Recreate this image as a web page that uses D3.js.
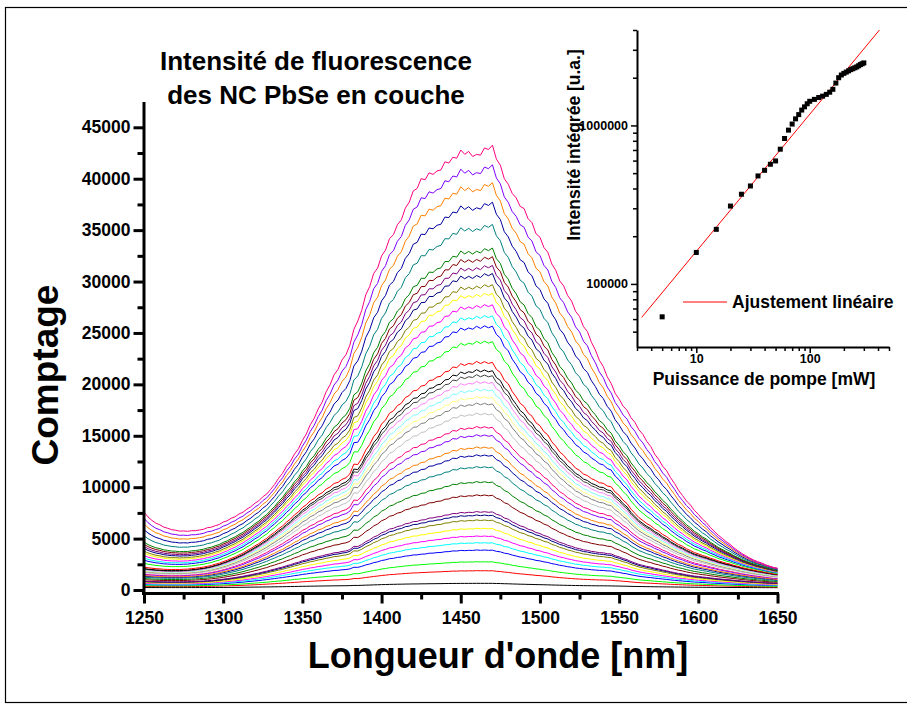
<!DOCTYPE html>
<html><head><meta charset="utf-8">
<script src="https://cdn.jsdelivr.net/npm/d3@7/dist/d3.min.js"></script>
<style>
body{margin:0;background:#fff}
text{font-family:"Liberation Sans",Arial,Helvetica,sans-serif;font-weight:bold;fill:#000}
</style></head>
<body><svg id="chart" width="907" height="704"></svg>
<script>
// ---------- data ----------
const wavelengths = d3.range(1250, 1651, 5); // nm, profile grid
// top spectrum (highest pump power), counts
const profileHigh = [7300,6500,6100,5750,5550,5500,5520,5600,5800,6000,6350,6700,7150,7600,8150,8800,9500,10600,11700,12900,14200,15700,17300,18900,20500,22000,23400,25800,28200,30300,32000,33600,35100,36600,38200,39500,40000,40300,41000,41500,42200,42000,41900,42400,42600,40800,38900,37700,36500,35200,33800,32300,30700,29100,27600,26200,24700,23000,21300,19700,18200,17100,16000,14800,13600,12400,11300,10100,8900,8000,7100,6300,5500,4800,4200,3600,3100,2700,2400,2100,1900];
// mid spectrum (25th curve), counts
const profileMid = [1900,1800,1750,1700,1700,1720,1780,1880,2000,2200,2450,2750,3100,3500,3950,4450,5000,5600,6200,6900,7600,8200,8800,9300,9800,10200,10700,11600,12900,14200,15400,16400,17200,17900,18500,19000,19500,19900,20300,20800,21100,21100,21400,21300,21200,20300,19200,18000,17000,16100,15200,14300,13300,12400,11600,11000,10500,10100,9800,9500,8700,7900,7000,6300,5800,5300,4800,4300,3900,3500,3200,2950,2700,2450,2250,2050,1850,1700,1550,1420,1300];
// counts at 1460 nm for each of the 41 spectra (bottom to top)
const peakCounts = [650,1880,2750,3890,4600,5250,6000,6810,7290,7620,9240,10530,11990,13130,13900,15080,15880,16500,17180,18160,18800,19520,20260,20910,21400,22200,24150,25610,26580,27620,28690,29500,30540,31290,32100,32900,35080,37120,38900,40530,42300];
const curveColors = ["#000000","#FF0000","#00FF00","#0000FF","#00FFFF","#FF00FF","#FFFF00","#808000","#000080","#800080","#800000","#008000","#008080","#0000A0","#FF8000","#8000FF","#FF0080","#FFFFFF","#C0C0C0","#808080","#FFFF80","#80FFFF","#FF80FF","#404040",
"#000000","#FF0000","#00FF00","#0000FF","#00FFFF","#FF00FF","#FFFF00","#808000","#000080","#800080","#800000","#008000","#008080","#0000A0","#FF8000","#8000FF","#FF0080"];
// small point-to-point detector ripple (relative)
const ripple = [3,-2,4,-3,1,-4,3,-1,4,-3,2,-4,3,-2,1,-3,4,-2,3,-4];
// narrow artefact line near 1383 nm (relative height)
const spikeWavelength = [1382.5];
const spikeHeight = [0.05];
const xTicks = [1250,1300,1350,1400,1450,1500,1550,1600,1650];
const yTicks = [0,5000,10000,15000,20000,25000,30000,35000,40000,45000];
// inset
const pumpPower = [5,10,15,20,25,30,35,40,45,50,55,60,65,70,75,80,85,90,95,100,110,120,130,140,150,160,170,180,190,200,210,220,230,240,250,260,270,280,290,300];
const integratedIntensity = [62000,158000,221000,310000,368000,415000,480000,521000,569000,597000,708000,827000,934000,1020000,1100000,1170000,1250000,1310000,1370000,1420000,1460000,1500000,1530000,1570000,1620000,1690000,1850000,2000000,2080000,2130000,2170000,2210000,2250000,2280000,2310000,2340000,2380000,2420000,2450000,2480000];
const fitPower = [3.3, 412];
const fitIntensity = [61500, 4000000];
const insetXTickLabels = [10, 100];
const insetYTickLabels = [100000, 1000000];

// ---------- drawing ----------
const svg = d3.select("#chart");
svg.append("rect").attr("x",5.5).attr("y",7.5).attr("width",910).attr("height",695)
  .attr("fill","none").attr("stroke","#000").attr("stroke-width",1.2);

const x = d3.scaleLinear().domain([1250,1650]).range([144,777.5]);
const y = d3.scaleLinear().domain([-300,47500]).range([593.1,101.6]);

// build spectra
const base = 200;
const iHigh = wavelengths.indexOf(1460);
const topPeak = peakCounts[peakCounts.length-1], midPeak = peakCounts[24];
function spectrum(P){
  const t = Math.max(0, Math.min(1, (P - midPeak)/(topPeak - midPeak)));
  const shape = wavelengths.map((w,i)=> (1-t)*profileMid[i]/profileMid[iHigh] + t*profileHigh[i]/profileHigh[iHigh]);
  const pts = [];
  for(let k=0;k<(wavelengths.length-1)*2+1;k++){
    const i0 = Math.floor(k/2), i1 = Math.ceil(k/2);
    const w = 1250 + 2.5*k;
    let s = (shape[i0]+shape[i1])/2;
    const si = spikeWavelength.indexOf(w);
    if(si>=0) s *= 1 + spikeHeight[si]*(1-0.6*t);
    const v = base + (P-base)*s;
    const r = ripple[k % ripple.length]*0.0015;
    pts.push([w, v + (v-base)*r]);
  }
  return pts;
}
const line = d3.line().x(d=>x(d[0])).y(d=>y(d[1]));
const gCurves = svg.append("g");
peakCounts.forEach((P,i)=>{
  gCurves.append("path").attr("d", line(spectrum(P))).attr("fill","none")
    .attr("stroke", curveColors[i]).attr("stroke-width",1);
});

// axes main
const yAxis = d3.axisLeft(y).tickValues(yTicks).tickSize(10).tickSizeOuter(0).tickPadding(3).tickFormat(d3.format("d"));
const gy = svg.append("g").attr("transform","translate(143.5,0)").call(yAxis);
const yMinor = d3.axisLeft(y).tickValues(d3.range(2500,47500,5000)).tickSize(6).tickSizeOuter(0).tickFormat("");
svg.append("g").attr("transform","translate(143.5,0)").call(yMinor).select(".domain").remove();
const xAxis = d3.axisBottom(x).tickValues(xTicks).tickSize(10).tickSizeOuter(0).tickPadding(8).tickFormat(d3.format("d"));
const gx = svg.append("g").attr("transform","translate(0,593.5)").call(xAxis);
const xMinor = d3.axisBottom(x).tickValues(d3.range(1275,1650,50)).tickSize(6).tickSizeOuter(0).tickFormat("");
svg.append("g").attr("transform","translate(0,593.5)").call(xMinor).select(".domain").remove();
gx.select(".domain").attr("d","M142,0H779");
svg.selectAll(".domain").attr("stroke-width",3);
svg.selectAll(".tick line").attr("stroke-width",3);
gy.selectAll("text").style("font-size","17.5px");
gx.selectAll("text").style("font-size","17.5px");
svg.selectAll(".tick text").style("font-family",null);

// titles
svg.append("text").attr("x",316).attr("y",70).attr("text-anchor","middle").style("font-size","26px").text("Intensité de fluorescence");
svg.append("text").attr("x",316).attr("y",104).attr("text-anchor","middle").style("font-size","26px").text("des NC PbSe en couche");
svg.append("text").attr("transform","translate(58,375) rotate(-90)").attr("text-anchor","middle").style("font-size","37px").text("Comptage");
svg.append("text").attr("x",498).attr("y",668).attr("text-anchor","middle").style("font-size","36px").text("Longueur d'onde [nm]");

// ---------- inset ----------
const ix = d3.scaleLog().domain([3,500]).range([637,889]);
const iy = d3.scaleLog().domain([40000,4000000]).range([347,30]);
const minorX = [3,4,5,6,7,8,9,20,30,40,50,60,70,80,90,200,300,400,500];
const minorY = [50000,60000,70000,80000,90000,200000,300000,400000,500000,600000,700000,800000,900000,2000000,3000000,4000000];
const gi = svg.append("g");
gi.append("g").attr("transform","translate(0,347)").call(d3.axisBottom(ix).tickValues(insetXTickLabels).tickSize(6).tickSizeOuter(0).tickPadding(1).tickFormat(d3.format("d")));
gi.append("g").attr("transform","translate(0,347)").call(d3.axisBottom(ix).tickValues(minorX).tickSize(4).tickSizeOuter(0).tickFormat("")).select(".domain").remove();
gi.append("g").attr("transform","translate(637,0)").call(d3.axisLeft(iy).tickValues(insetYTickLabels).tickSize(6).tickSizeOuter(0).tickPadding(3).tickFormat(d3.format("d")));
gi.append("g").attr("transform","translate(637,0)").call(d3.axisLeft(iy).tickValues(minorY).tickSize(4).tickSizeOuter(0).tickFormat("")).select(".domain").remove();
gi.selectAll(".domain").attr("stroke-width",2);
gi.selectAll(".tick line").attr("stroke-width",1.5);
gi.selectAll(".tick text").style("font-size","12.5px").style("font-family",null);

gi.append("line").attr("x1",ix(fitPower[0])).attr("y1",iy(fitIntensity[0])).attr("x2",ix(fitPower[1])).attr("y2",iy(fitIntensity[1]))
  .attr("stroke","#FF0000").attr("stroke-width",1);
gi.selectAll("rect.pt").data(pumpPower).enter().append("rect").attr("class","pt")
  .attr("x",(d)=>ix(d)-2.5).attr("y",(d,i)=>iy(integratedIntensity[i])-2.5).attr("width",5).attr("height",5).attr("fill","#000");
gi.append("line").attr("x1",683).attr("x2",727).attr("y1",302).attr("y2",302).attr("stroke","#FF0000").attr("stroke-width",1);
gi.append("text").attr("x",732).attr("y",308).style("font-size","17.5px").text("Ajustement linéaire");
gi.append("text").attr("x",764).attr("y",385).attr("text-anchor","middle").style("font-size","17.5px").text("Puissance de pompe [mW]");
gi.append("text").attr("transform","translate(580,145) rotate(-90)").attr("text-anchor","middle").style("font-size","17.5px").text("Intensité intégrée [u.a.]");
</script></body></html>
